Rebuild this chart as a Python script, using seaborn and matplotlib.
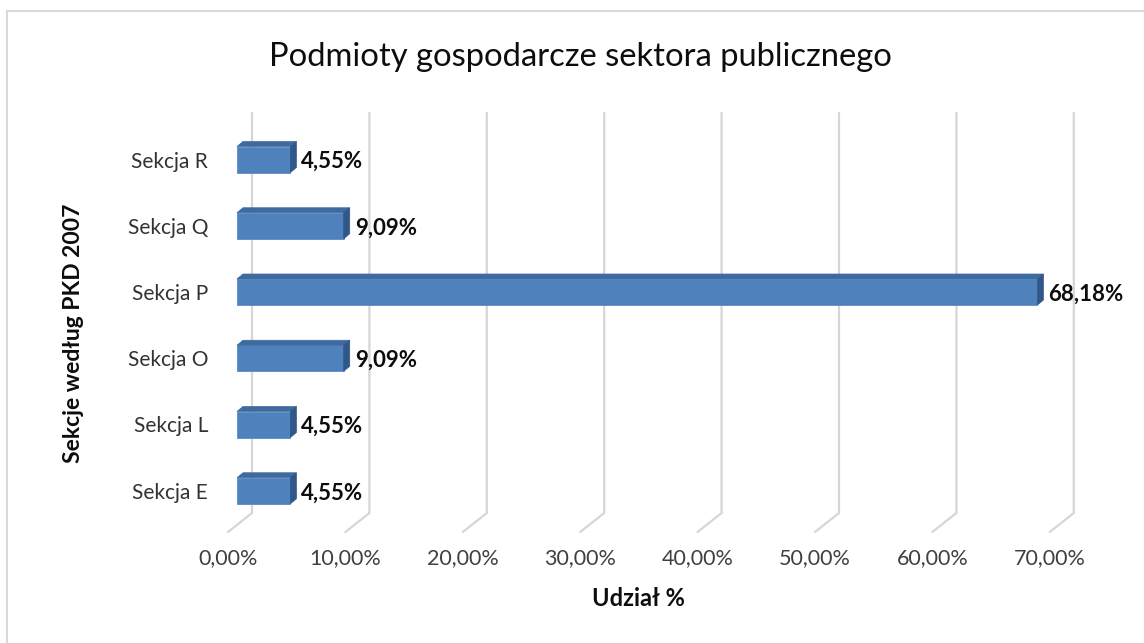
import matplotlib
matplotlib.use("Agg")
import matplotlib.pyplot as plt
import seaborn as sns
import pandas as pd
from matplotlib.patches import Polygon, Rectangle

# ---- data ----
categories = ["Sekcja R", "Sekcja Q", "Sekcja P", "Sekcja O", "Sekcja L", "Sekcja E"]
shares = [4.55, 9.09, 68.18, 9.09, 4.55, 4.55]
share_labels = ["4,55%", "9,09%", "68,18%", "9,09%", "4,55%", "4,55%"]
x_ticks = [0, 10, 20, 30, 40, 50, 60, 70]
x_tick_labels = ["0,00%", "10,00%", "20,00%", "30,00%", "40,00%", "50,00%", "60,00%", "70,00%"]
title = "Podmioty gospodarcze sektora publicznego"
x_title = "Udział %"
y_title = "Sekcje według PKD 2007"

# ---- layout (pixels) ----
W, H = 1144, 643
AX_L, AX_R, AX_T, AX_B = 215, 1100, 100, 545
PX_PER_PCT = 11.74
X0_PX = 237
Y0_PX = 159.5
PX_PER_CAT = 66.25

sns.set_theme(style="white")
plt.rcParams['font.family'] = ['Lato', 'DejaVu Sans']

fig = plt.figure(figsize=(W / 100, H / 100), dpi=100)
fig.patch.set_facecolor("white")
ax = fig.add_axes([AX_L / W, 1 - AX_B / H, (AX_R - AX_L) / W, (AX_B - AX_T) / H])

df = pd.DataFrame({"cat": categories, "share": shares})
sns.barplot(data=df, x="share", y="cat", orient="h", color="#4F81BD", saturation=1,
            width=26 / PX_PER_CAT, ax=ax, zorder=3, edgecolor="#5A8CC6", linewidth=0.6)

ax.set_xlim((AX_L - X0_PX) / PX_PER_PCT, (AX_R - X0_PX) / PX_PER_PCT)
ax.set_ylim((AX_B - Y0_PX) / PX_PER_CAT, (AX_T - Y0_PX) / PX_PER_CAT)

def px_x(p):
    return p / PX_PER_PCT

def px_y(p):
    return p / PX_PER_CAT

# 3D faces of bars
bdx, bdy = px_x(6), -px_y(5)
for p, lab in zip(ax.patches, share_labels):
    x0, w, y0, h = p.get_x(), p.get_width(), p.get_y(), p.get_height()
    top = Polygon([(x0, y0), (x0 + w, y0), (x0 + w + bdx, y0 + bdy), (x0 + bdx, y0 + bdy)],
                  closed=True, facecolor="#3E6A9F", edgecolor="#3E6A9F", lw=0.5, zorder=3)
    side = Polygon([(x0 + w, y0), (x0 + w, y0 + h), (x0 + w + bdx, y0 + h + bdy), (x0 + w + bdx, y0 + bdy)],
                   closed=True, facecolor="#2F5788", edgecolor="#2F5788", lw=0.5, zorder=3)
    ax.add_patch(top)
    ax.add_patch(side)
    ax.text(x0 + w + bdx + px_x(5), y0 + h / 2 + px_y(2), lab, ha="left", va="center",
            fontsize=16, fontweight="bold", color="#0D0D0D", zorder=5)

# 3D gridlines (back wall + floor diagonal)
y_top = px_y(113 - Y0_PX)
y_back_bot = px_y(513 - Y0_PX)
y_front = px_y(532 - Y0_PX)
for t, lab in zip(x_ticks, x_tick_labels):
    xb = t + px_x(15)
    xf = t - px_x(9)
    ax.plot([xb, xb, xf], [y_top, y_back_bot, y_front], color="#D6D6D6", lw=1.6, zorder=1,
            solid_joinstyle="miter")
    ax.text(xf, px_y(558 - Y0_PX), lab, ha="center", va="center", fontsize=15.5,
            color="#404040", clip_on=False)

for s in ax.spines.values():
    s.set_visible(False)
ax.set_xticks([])
ax.set_xlabel("")
ax.tick_params(axis="y", length=0, pad=5, labelsize=15, labelcolor="#333333")
ax.set_ylabel(y_title, fontsize=16.5, fontweight="bold", color="#0D0D0D")
ax.yaxis.set_label_coords((84 - AX_L) / (AX_R - AX_L), (AX_B - 333) / (AX_B - AX_T))

fig.text(580 / W, 1 - 57 / H, title, ha="center", va="center", fontsize=23.6, color="#0D0D0D")
fig.text(638 / W, 1 - 598 / H, x_title, ha="center", va="center", fontsize=17,
         fontweight="bold", color="#0D0D0D")

fig.add_artist(Rectangle((7 / W, -0.1), 1.2, (1 - 11 / H) + 0.1, transform=fig.transFigure,
                         fill=False, edgecolor="#D9D9D9", lw=1.5))

fig.savefig("out.png", dpi=100, facecolor="white")
